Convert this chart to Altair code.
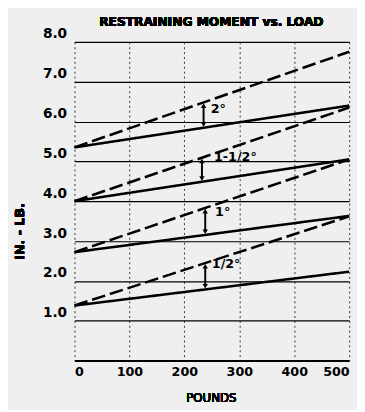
import altair as alt
import pandas as pd

# Data
angles = ["2°", "1-1/2°", "1°", "1/2°"]
start_moment = [5.35, 4.0, 2.72, 1.38]        # in.-lb. at 0 pounds (both curves)
dashed_end = [7.75, 6.35, 5.05, 3.62]          # in.-lb. at 500 pounds (dashed curve)
solid_end = [6.4, 5.05, 3.63, 2.23]            # in.-lb. at 500 pounds (solid curve)
load_range = [0, 500]
marker_load = [235, 232, 238, 238]
label_load = [248, 254, 256, 250]
label_moment = [6.3, 5.1, 3.72, 2.42]
x_ticks = [0, 100, 200, 300, 400, 500]
y_ticks = [1, 2, 3, 4, 5, 6, 7, 8]

rows = []
for a, s, d, e in zip(angles, start_moment, dashed_end, solid_end):
    rows.append({"angle": a, "style": "dashed", "load": load_range[0], "moment": s})
    rows.append({"angle": a, "style": "dashed", "load": load_range[1], "moment": d})
    rows.append({"angle": a, "style": "solid", "load": load_range[0], "moment": s})
    rows.append({"angle": a, "style": "solid", "load": load_range[1], "moment": e})
lines_df = pd.DataFrame(rows)

mk = []
for a, s, d, e, ml in zip(angles, start_moment, dashed_end, solid_end, marker_load):
    top = s + (d - s) * ml / 500.0
    bot = s + (e - s) * ml / 500.0
    mk.append({"angle": a, "load": ml, "top": top - 0.08, "bot": bot + 0.08})
mk_df = pd.DataFrame(mk)
lab_df = pd.DataFrame({"angle": angles, "load": label_load, "moment": label_moment})

xs = alt.Scale(domain=[0, 500], nice=False)
ys = alt.Scale(domain=[0, 8], nice=False)

FONT = "DejaVu Sans"

base_axes = alt.Chart(lines_df).mark_point(opacity=0).encode(
    x=alt.X("load:Q", scale=xs, axis=alt.Axis(
        values=x_ticks, title=None, grid=True, gridDash=[2, 3], gridColor="#333",
        gridWidth=1, ticks=False, domain=True, domainColor="black", domainWidth=2,
        labelFont=FONT, labelFontWeight="bold", labelFontSize=13, labelColor="black",
        labelPadding=5, labelFlush=True)),
    y=alt.Y("moment:Q", scale=ys, axis=alt.Axis(
        values=y_ticks, format=".1f", title=None, grid=True, gridColor="black",
        gridWidth=1.2, ticks=False, domain=False, labelFont=FONT,
        labelFontWeight="bold", labelFontSize=14, labelColor="black",
        labelBaseline="bottom", labelPadding=8, labelOffset=-1)),
)

lines = alt.Chart(lines_df).mark_line(color="black", strokeWidth=2.6).encode(
    x=alt.X("load:Q", scale=xs),
    y=alt.Y("moment:Q", scale=ys),
    detail=["angle:N", "style:N"],
    strokeDash=alt.StrokeDash("style:N", scale=alt.Scale(
        domain=["dashed", "solid"], range=[[14, 5], [1, 0]]), legend=None),
)

rules = alt.Chart(mk_df).mark_rule(color="black", strokeWidth=2).encode(
    x=alt.X("load:Q", scale=xs), y=alt.Y("top:Q", scale=ys), y2="bot:Q")
tops = alt.Chart(mk_df).mark_point(shape="triangle-up", filled=True, color="black",
                                   size=30, opacity=1).encode(
    x=alt.X("load:Q", scale=xs), y=alt.Y("top:Q", scale=ys))
bots = alt.Chart(mk_df).mark_point(shape="triangle-down", filled=True, color="black",
                                   size=30, opacity=1).encode(
    x=alt.X("load:Q", scale=xs), y=alt.Y("bot:Q", scale=ys))

labels = alt.Chart(lab_df).mark_text(font=FONT, fontSize=13, fontWeight="bold",
                                     align="left", baseline="middle",
                                     color="black").encode(
    x=alt.X("load:Q", scale=xs), y=alt.Y("moment:Q", scale=ys), text="angle:N")

title = alt.Chart(lines_df).mark_text(text="RESTRAINING MOMENT vs. LOAD", font=FONT,
                                      fontSize=12.5, fontWeight="bold", color="black",
                                      align="center").encode(
    x=alt.value(140), y=alt.value(-20))
ytitle = alt.Chart(lines_df).mark_text(text="IN. - LB.", font=FONT, fontSize=13,
                                       fontWeight="bold", color="black", angle=270,
                                       align="center").encode(
    x=alt.value(-56), y=alt.value(194))
xtitle = alt.Chart(lines_df).mark_text(text="POUNDS", font=FONT, fontSize=12,
                                       color="black", align="center").encode(
    x=alt.value(140), y=alt.value(364))

chart = alt.layer(base_axes, lines, rules, tops, bots, labels, title, ytitle, xtitle).properties(
    width=281, height=326,
    padding={"left": 68, "top": 30, "right": 8, "bottom": 46},
    autosize=alt.AutoSizeParams(type="none"),
    background="#efefef",
).configure_view(stroke=None)

chart.save("out.html", embed_options={"renderer": "svg", "actions": False})
